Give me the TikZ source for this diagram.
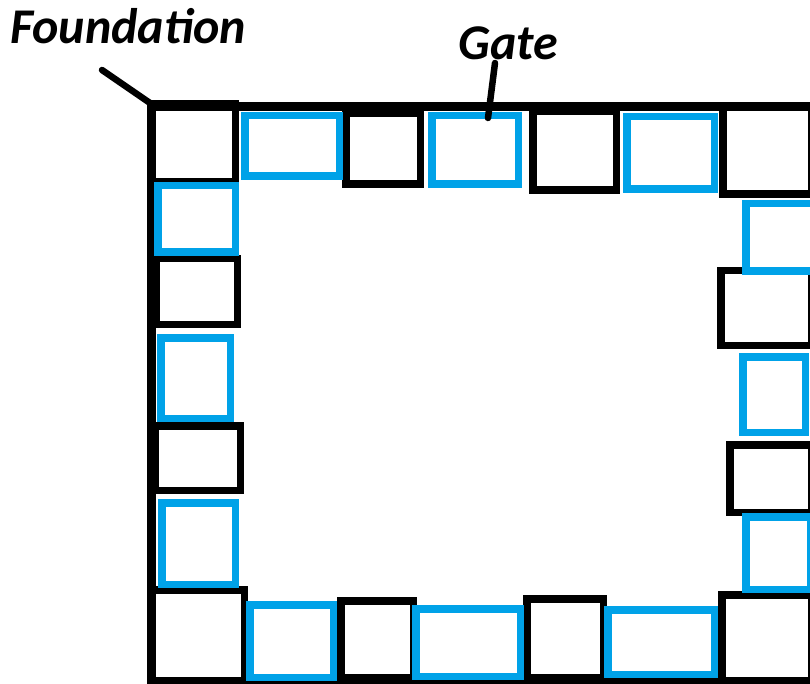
\documentclass[tikz,border=0pt]{standalone}
\usepackage{fontspec}
\setmainfont{Carlito}
\definecolor{gateblue}{RGB}{0,162,232}
\newcommand{\wallbox}[6]{\node[#2, minimum width={#5-#3-7.5}, minimum height={#6-#4-7.5}] (#1) at ({(#3+#5)/2},{(#4+#6)/2}) {};}
\begin{document}
\begin{tikzpicture}[x=1pt,y=-1pt,
  wall/.style={rectangle, inner sep=0pt, outer sep=0pt, line width=7.5pt},
  blk/.style={wall, draw=black},
  blu/.style={wall, draw=gateblue},
  frame/.style={draw=black, line width=9pt, line join=miter},
  lbl/.style={font=\bfseries\itshape\fontsize{50}{54}\selectfont, inner sep=0pt, anchor=base west},
  leader/.style={draw=black, line width=6.5pt, line cap=round}]
\useasboundingbox (0,0) rectangle (810,684);
\clip (0,0) rectangle (810,684);
% outer foundation frame
\draw[frame] (820,107) -- (151.5,107) -- (151.5,681) -- (820,681);
% black blocks
\wallbox{t1}{blk}{148}{100}{239}{186}
\wallbox{t3}{blk}{342}{110}{424}{188}
\wallbox{t5}{blk}{529}{108}{620}{194}
\wallbox{t7}{blk}{719}{103}{815}{198}
\wallbox{r2}{blk}{717}{267}{815}{349}
\wallbox{r4}{blk}{726}{441}{815}{516}
\wallbox{r6}{blk}{718}{591}{815}{684}
\wallbox{b5}{blk}{523}{595}{607}{681}
\wallbox{b3}{blk}{337}{597}{417}{681}
\wallbox{b1}{blk}{148}{586}{248}{684}
\wallbox{l2}{blk}{152}{255}{241}{328}
\wallbox{l4}{blk}{151}{422}{244}{494}
% blue gates
\wallbox{t2}{blu}{241}{112}{343}{180}
\wallbox{t4}{blu}{428}{112}{522}{188}
\wallbox{t6}{blu}{623}{113}{718}{193}
\wallbox{r1}{blu}{742}{200}{817}{275}
\wallbox{r3}{blu}{739}{353}{809}{436}
\wallbox{r5}{blu}{742}{513}{814}{593}
\wallbox{b6}{blu}{604}{606}{718}{678}
\wallbox{b4}{blu}{412}{605}{524}{680}
\wallbox{b2}{blu}{246}{601}{337}{681}
\wallbox{l1}{blu}{154}{182}{239}{256}
\wallbox{l3}{blu}{157}{334}{234}{422}
\wallbox{l5}{blu}{158}{499}{239}{588}
% labels
\node[lbl] (found) at (10,44) {Foundation};
\node[lbl] (gate) at (458,60) {Gate};
\coordinate (fA) at (102,70);
\coordinate (fB) at (150,103);
\draw[leader] (fA) -- (fB);
\coordinate (gA) at (495,63);
\coordinate (gB) at (488,118);
\draw[leader] (gA) -- (gB);
\end{tikzpicture}
\end{document}
